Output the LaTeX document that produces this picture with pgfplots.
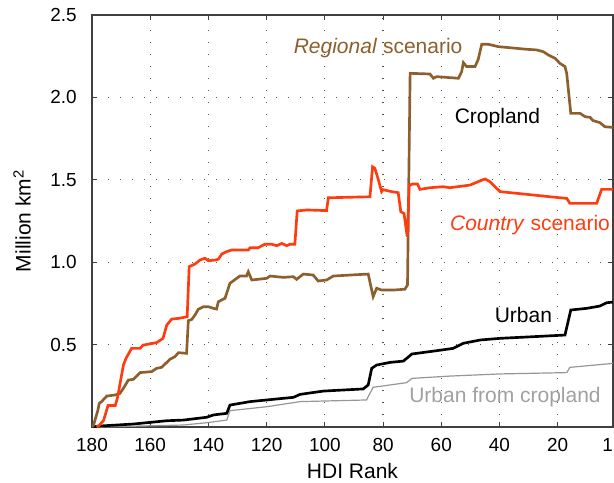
\documentclass[border=0pt]{standalone}
\usepackage{fontspec}
\setmainfont{Liberation Sans}
\usepackage{pgfplots}
\pgfplotsset{compat=1.18}
\definecolor{cbrown}{RGB}{140,95,45}
\definecolor{corange}{RGB}{255,60,15}
\definecolor{cgrayline}{RGB}{150,150,150}
\definecolor{cgraytext}{RGB}{160,160,160}
\begin{document}
\begin{tikzpicture}
\begin{axis}[
  scale only axis, width=390.75pt, height=309pt,
  x dir=reverse, xmin=1, xmax=180, ymin=0, ymax=2.5,
  xtick={1,20,40,60,80,100,120,140,160,180},
  xticklabels={\llap{1},20,40,60,80,100,120,140,160,180},
  ytick={0.5,1,1.5,2,2.5},
  yticklabel style={/pgf/number format/fixed,/pgf/number format/fixed zerofill,/pgf/number format/precision=1, xshift=-8pt},
  xticklabel style={yshift=-5pt},
  /pgf/number format/assume math mode=true,
  tick align=inside, tick pos=both,
  major tick length=4pt,
  grid=major,
  major grid style={dash pattern=on 1.1pt off 7.9pt, black!65, line width=0.9pt},
  axis line style={line width=1pt, black!75},
  every tick/.style={black!75, line width=0.8pt},
  tick label style={font=\fontsize{14.2}{16}\selectfont},
  xlabel={HDI Rank}, ylabel={Million km\textsuperscript{2}},
  every axis x label/.style={at={(axis description cs:0.5,0)}, yshift=-33pt, anchor=center, inner sep=0pt, font=\fontsize{15.75}{18}\selectfont},
  every axis y label/.style={at={(axis description cs:0,0.5)}, xshift=-52.5pt, rotate=90, anchor=center, font=\fontsize{15.75}{18}\selectfont},
]
\addplot[cgrayline, line width=0.9pt] coordinates {
(180,0) (177.3,0) (148.6,0.012) (140.6,0.026) (133.7,0.042) (132.6,0.099)
(120,0.123) (108.5,0.154) (85.7,0.164) (84.5,0.204) (83.4,0.241) (71.9,0.269)
(70.1,0.295) (57.0,0.309) (39.8,0.322) (16.9,0.330) (15.8,0.362) (1,0.386)
};
\addplot[black, line width=2pt] coordinates {
(180,0) (177.3,0.006) (165.8,0.018) (154.3,0.038) (148.6,0.042) (140.6,0.059)
(138.3,0.073) (133.7,0.083) (132.6,0.133) (125.7,0.154) (117.7,0.168) (110.8,0.180)
(108.5,0.198) (100.5,0.218) (86.8,0.231) (85.1,0.255) (83.9,0.356) (82.2,0.376)
(77.6,0.392) (73.0,0.400) (70.1,0.443) (61.6,0.463) (55.9,0.477) (52.4,0.508)
(46.6,0.528) (39.8,0.538) (28.4,0.548) (17.5,0.558) (15.5,0.710) (10.0,0.720)
(5.5,0.734) (3.2,0.754) (1,0.758)
};
\addplot[cbrown, line width=2pt] coordinates {
(180,0.0) (179.5,0.01) (178,0.10) (177.5,0.144) (176.7,0.154) (174.9,0.188)
(172.1,0.194) (170.4,0.204) (169.2,0.235) (167.5,0.285) (165.8,0.289) (163.5,0.330)
(159.5,0.336) (157.8,0.356) (156.1,0.362) (154.9,0.382) (153.2,0.411) (151.5,0.427)
(150.3,0.451) (147.5,0.447) (146.9,0.645) (145.7,0.653) (144.6,0.680) (143.5,0.714)
(141.7,0.730) (140.0,0.730) (138.3,0.720) (137.2,0.716) (136.6,0.760) (134.3,0.781)
(132.6,0.872) (129.2,0.916) (126.9,0.916) (126.3,0.942) (125.1,0.892) (120.0,0.902)
(118.8,0.916) (114.3,0.908) (110.8,0.912) (109.7,0.896) (107.4,0.928) (104.0,0.922)
(102.3,0.886) (99.4,0.892) (97.1,0.916) (91.4,0.922) (85.1,0.928) (83.9,0.831)
(83.4,0.791) (82.2,0.842) (80.5,0.831) (76.5,0.831) (72.5,0.836) (71.6,0.862)
(70.7,2.146) (63.9,2.142) (62.7,2.116) (61.6,2.126) (54.1,2.116) (53.0,2.156)
(52.4,2.211) (51.3,2.187) (48.4,2.187) (47.3,2.231) (46.1,2.322) (43.8,2.322)
(40.4,2.308) (30.7,2.292) (27.2,2.288) (24.9,2.277) (23.2,2.257) (20.9,2.237)
(19.2,2.206) (17.5,2.187) (16.9,2.146) (15.5,1.903) (12.3,1.903) (10.6,1.883)
(8.9,1.879) (7.8,1.859) (5.5,1.847) (3.8,1.822) (1,1.818)
};
\addplot[corange, line width=2pt] coordinates {
(178.4,0.0) (177.5,0.01) (176,0.04) (175.5,0.07) (174.5,0.13) (172,0.13)
(171.2,0.18) (170.5,0.25) (169.2,0.376) (168.3,0.417) (166.4,0.477) (163.5,0.477)
(162.4,0.497) (157.8,0.512) (156.1,0.532) (155.6,0.538) (154.3,0.619) (152.6,0.655)
(150.3,0.659) (147.3,0.669) (146.6,0.973) (144.6,0.989) (142.9,1.013) (141.2,1.024)
(140.0,1.009) (137.7,1.013) (136.6,1.018) (135.4,1.05) (133.7,1.064) (132.0,1.074)
(126.3,1.074) (125.7,1.088) (122.9,1.088) (120.6,1.109) (118.3,1.109) (116.5,1.100)
(114.8,1.114) (113.1,1.100) (112.0,1.109) (110.3,1.109) (109.5,1.311) (106.2,1.317)
(99.4,1.313) (98.8,1.391) (84.5,1.397) (83.6,1.579) (82.8,1.569) (81.6,1.499)
(80.5,1.428) (80.0,1.44) (77.0,1.428) (74.8,1.422) (73.9,1.306) (72.8,1.296)
(71.7,1.155) (71.0,1.468) (69.6,1.475) (68.2,1.475) (67.3,1.442) (63.9,1.452)
(59.3,1.458) (57.0,1.452) (50.1,1.468) (47.3,1.489) (45.0,1.505) (43.3,1.489)
(39.8,1.428) (34.1,1.418) (22.6,1.397) (16.9,1.387) (15.8,1.357) (6.6,1.357)
(4.9,1.442) (1,1.442)
};
\node[cbrown, font=\fontsize{15.75}{18}\selectfont] at (axis cs:81.7,2.30) {\textit{Regional} scenario};
\node[black, font=\fontsize{15.75}{18}\selectfont] at (axis cs:40.7,1.875) {Cropland};
\node[corange, font=\fontsize{15.75}{18}\selectfont] at (axis cs:29.5,1.226) {\textit{Country} scenario};
\node[black, font=\fontsize{15.75}{18}\selectfont] at (axis cs:31.8,0.68) {Urban};
\node[cgraytext, font=\fontsize{15.75}{18}\selectfont] at (axis cs:38.1,0.184) {Urban from cropland};
\coordinate (ll) at (rel axis cs:0,0);
\coordinate (ur) at (rel axis cs:1,1);
\end{axis}
\pgfresetboundingbox
\path[use as bounding box] ([xshift=-69pt,yshift=-41.25pt]ll) rectangle ([xshift=0.75pt,yshift=11.25pt]ur);
\end{tikzpicture}
\end{document}
